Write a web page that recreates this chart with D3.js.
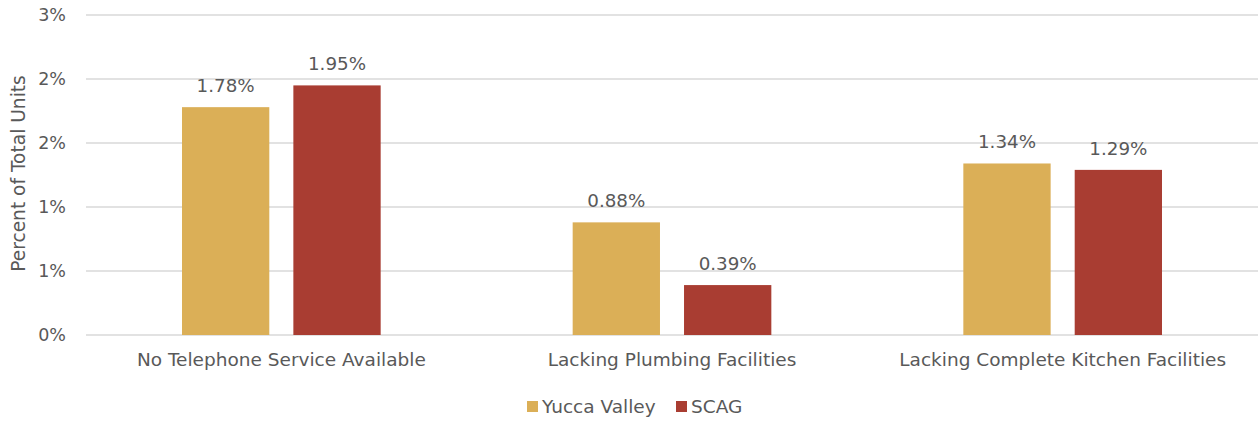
<!DOCTYPE html>
<html>
<head>
<meta charset="utf-8">
<script src="https://cdn.jsdelivr.net/npm/d3@7"></script>
<style>
  body { margin: 0; background: #fff; }
  text { font-family: "DejaVu Sans", sans-serif; fill: #595959; }
</style>
</head>
<body>
<div id="chart"></div>
<script>
// Data
var categories = ["No Telephone Service Available", "Lacking Plumbing Facilities", "Lacking Complete Kitchen Facilities"];
var seriesNames = ["Yucca Valley", "SCAG"];
var yuccaValues = [1.78, 0.88, 1.34];
var scagValues = [1.95, 0.39, 1.29];
var tickValues = [0, 0.5, 1, 1.5, 2, 2.5];
var tickLabels = ["0%", "1%", "1%", "2%", "2%", "3%"];
var colors = ["#DBAF57", "#A93D32"];

var svgWidth = 1259;
var svgHeight = 421;

var margin = { top: 15, right: 1, bottom: 86, left: 86 };
var width = svgWidth - margin.left - margin.right;
var height = svgHeight - margin.top - margin.bottom;

var svg = d3.select("#chart")
    .append("svg")
    .attr("width", svgWidth)
    .attr("height", svgHeight);

var chartGroup = svg.append("g")
    .attr("transform", `translate(${margin.left}, ${margin.top})`);

// scales
var xScale = d3.scaleBand()
    .domain(categories)
    .range([0, width]);

var xInner = d3.scaleBand()
    .domain(seriesNames)
    .range([96, xScale.bandwidth() - 96])
    .paddingInner(0.216);

var yScale = d3.scaleLinear()
    .domain([0, 2.5])
    .range([height, 0]);

// gridlines
chartGroup.append("g")
    .selectAll("line")
    .data(tickValues)
    .enter()
    .append("line")
    .attr("x1", 0)
    .attr("x2", width)
    .attr("y1", d => yScale(d))
    .attr("y2", d => yScale(d))
    .attr("stroke", "#d9d9d9")
    .attr("stroke-width", 1.3);

// y axis labels
var leftAxis = d3.axisLeft(yScale)
    .tickValues(tickValues)
    .tickFormat((d, i) => tickLabels[i])
    .tickSize(0)
    .tickPadding(20);

var yAxis = chartGroup.append("g").call(leftAxis);
yAxis.select(".domain").remove();
yAxis.selectAll("text")
    .style("font-size", "17.5px")
    .attr("fill", "#595959");

// x axis labels
var bottomAxis = d3.axisBottom(xScale).tickSize(0).tickPadding(18);
var xAxis = chartGroup.append("g")
    .attr("transform", `translate(0, ${height})`)
    .call(bottomAxis);
xAxis.select(".domain").remove();
xAxis.selectAll("text")
    .style("font-size", "18.5px")
    .attr("fill", "#595959");

// bars
var rows = categories.map((c, i) => ({ category: c, values: [yuccaValues[i], scagValues[i]] }));

var groups = chartGroup.selectAll(".cat")
    .data(rows)
    .enter()
    .append("g")
    .attr("transform", d => `translate(${xScale(d.category)}, 0)`);

groups.selectAll("rect")
    .data(d => d.values.map((v, j) => ({ name: seriesNames[j], value: v, color: colors[j] })))
    .enter()
    .append("rect")
    .attr("x", d => xInner(d.name))
    .attr("width", xInner.bandwidth())
    .attr("y", d => yScale(d.value))
    .attr("height", d => height - yScale(d.value))
    .attr("fill", d => d.color);

groups.selectAll(".lbl")
    .data(d => d.values.map((v, j) => ({ name: seriesNames[j], value: v })))
    .enter()
    .append("text")
    .attr("x", d => xInner(d.name) + xInner.bandwidth() / 2)
    .attr("y", d => yScale(d.value) - 15)
    .attr("text-anchor", "middle")
    .style("font-size", "18.3px")
    .text(d => d.value.toFixed(2) + "%");

// y axis title
svg.append("text")
    .attr("transform", "rotate(-90)")
    .attr("x", -173.5)
    .attr("y", 25)
    .attr("text-anchor", "middle")
    .style("font-size", "18.6px")
    .text("Percent of Total Units");

// legend
var legend = svg.append("g").attr("transform", "translate(527, 401)");
var legendX = [0, 149];
seriesNames.forEach(function(name, i) {
    var item = legend.append("g").attr("transform", `translate(${legendX[i]}, 0)`);
    item.append("rect")
        .attr("width", 11)
        .attr("height", 11)
        .attr("fill", colors[i]);
    item.append("text")
        .attr("x", 15)
        .attr("y", 12)
        .style("font-size", "18.5px")
        .text(name);
});
</script>
</body>
</html>
